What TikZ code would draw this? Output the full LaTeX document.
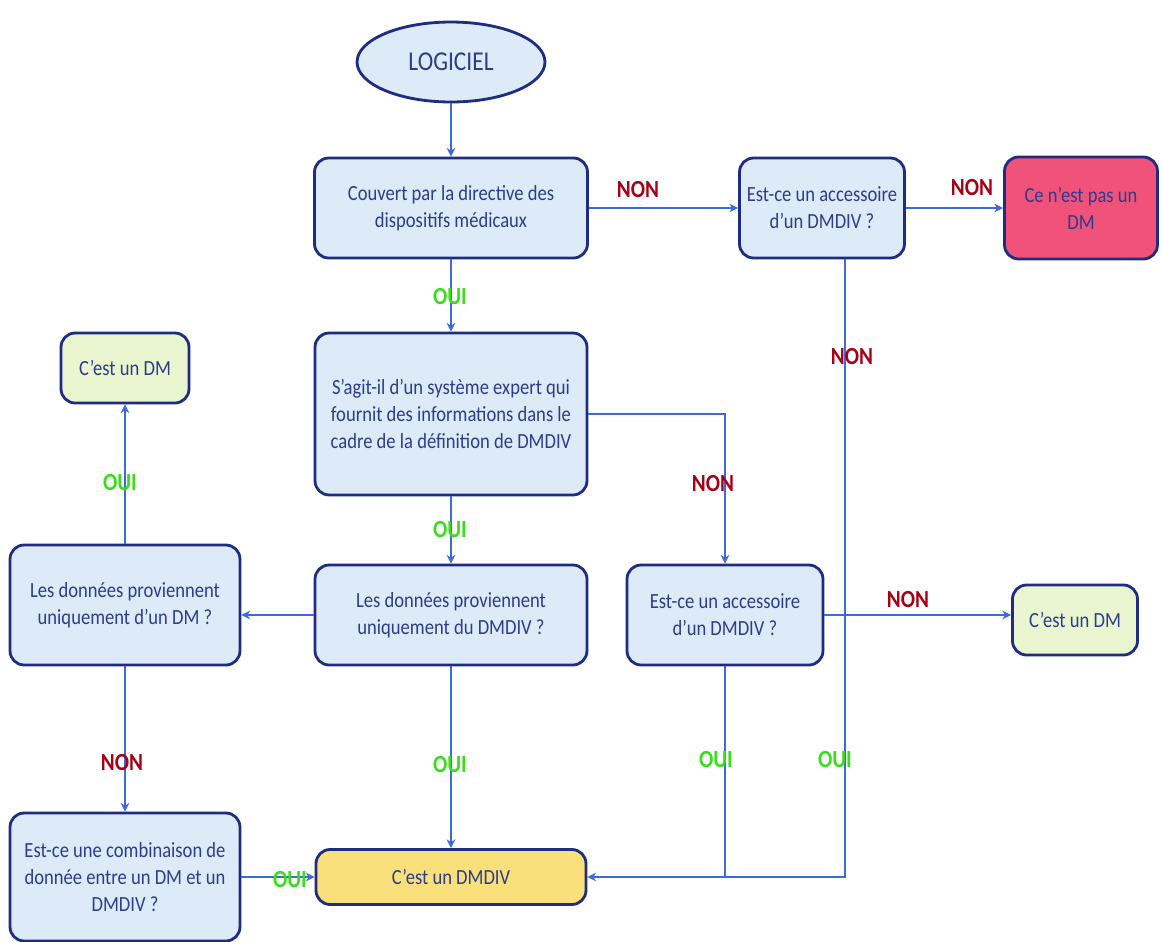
\documentclass[tikz,border=0pt]{standalone}
\usepackage{fontspec}
\setmainfont{Carlito}[FakeStretch=0.86]
\usetikzlibrary{arrows.meta,shapes.geometric}
\definecolor{boxfill}{RGB}{221,234,248}
\definecolor{boxdraw}{RGB}{30,45,130}
\definecolor{txt}{RGB}{46,60,140}
\definecolor{wire}{RGB}{62,105,222}
\definecolor{nonc}{RGB}{165,0,20}
\definecolor{ouic}{RGB}{55,222,25}
\definecolor{redfill}{RGB}{240,82,122}
\definecolor{greenfill}{RGB}{233,246,208}
\definecolor{yellowfill}{RGB}{249,224,122}
\tikzset{
  flowbox/.style={draw=boxdraw, line width=1.6pt, fill=boxfill, rounded corners=8pt,
    align=center, text=txt, font=\fontsize{12.3}{15.3}\selectfont, inner sep=2pt},
  startnode/.style={ellipse, draw=boxdraw, line width=1.6pt, fill=boxfill, text=txt,
    font=\fontsize{15.5}{18}\selectfont, inner sep=0pt},
  arr/.style={draw=wire, line width=1.1pt, -{Stealth[length=5pt,width=5pt]}},
  thickarr/.style={arr, line width=1.6pt},
  wireline/.style={draw=wire, line width=1.1pt},
  nonlab/.style={text=nonc, font=\fontsize{14}{16}\selectfont\bfseries, inner sep=0pt},
  ouilab/.style={text=ouic, font=\fontsize{14}{16}\selectfont\bfseries, inner sep=0pt},
}
\begin{document}
\begin{tikzpicture}[x=0.02cm,y=-0.02cm]
\useasboundingbox[fill=white] (0,0) rectangle (1161,941);
% nodes
\node[startnode, minimum width=3.76cm, minimum height=1.6cm] (logi) at (451,62) {LOGICIEL};
\node[flowbox, minimum width=5.46cm, minimum height=2.0cm] (b1) at (451,208) {Couvert par la directive des\\dispositifs médicaux};
\node[flowbox, minimum width=3.3cm, minimum height=2.0cm] (b2) at (822,208) {Est-ce un accessoire\\d’un DMDIV ?};
\node[flowbox, fill=redfill, minimum width=3.06cm, minimum height=2.04cm] (red) at (1081,208) {Ce n’est pas un\\DM};
\node[flowbox, minimum width=5.44cm, minimum height=3.24cm] (b3) at (451,414) {S'agit-il d'un système expert qui\\fournit des informations dans le\\cadre de la définition de DMDIV};
\node[flowbox, fill=greenfill, minimum width=2.56cm, minimum height=1.4cm] (dm1) at (125,368) {C’est un DM};
\node[flowbox, minimum width=4.6cm, minimum height=2.4cm] (b4) at (125,605) {Les données proviennent\\uniquement d’un DM ?};
\node[flowbox, minimum width=5.44cm, minimum height=2.0cm] (b5) at (451,615) {Les données proviennent\\uniquement du DMDIV ?};
\node[flowbox, minimum width=3.92cm, minimum height=2.0cm] (b6) at (725,615) {Est-ce un accessoire\\d’un DMDIV ?};
\node[flowbox, fill=greenfill, minimum width=2.5cm, minimum height=1.4cm] (dm2) at (1075,620) {C’est un DM};
\node[flowbox, minimum width=4.6cm, minimum height=2.56cm] (b7) at (125,877) {Est-ce une combinaison de\\donnée entre un DM et un\\DMDIV ?};
\node[flowbox, fill=yellowfill, minimum width=5.4cm, minimum height=1.1cm] (dmdiv) at (451,877) {C’est un DMDIV};
% junction coordinates
\coordinate (j2) at (845,877);
% connectors
\draw[arr] (logi) -- (b1);
\draw[thickarr] (b1) -- (b2);
\draw[arr] (b2) -- (red);
\draw[arr] (b1) -- (b3);
\draw[arr] (b2.south -| j2) -- (j2) -- (dmdiv.east);
\draw[arr] (b3.east) -| (b6.north);
\draw[arr] (b3) -- (b5);
\draw[thickarr] (b5.west) -- (b5.west -| b4.east);
\draw[arr] (b4) -- (dm1);
\draw[arr] (b4) -- (b7);
\draw[thickarr] (b7) -- (dmdiv);
\draw[arr] (b5) -- (dmdiv);
\draw[thickarr] (b6.east) -- (b6.east -| dm2.west);
\draw[wireline] (b6.south) -- (b6.south |- dmdiv.east);
% labels
\node[nonlab] (l1) at (638,190) {NON};
\node[nonlab] (l2) at (972,188) {NON};
\node[ouilab] (l3) at (450,297) {OUI};
\node[nonlab] (l4) at (852,357) {NON};
\node[nonlab] (l5) at (713,484) {NON};
\node[ouilab] (l6) at (450,530) {OUI};
\node[ouilab] (l7) at (120,483) {OUI};
\node[nonlab] (l8) at (908,600) {NON};
\node[nonlab] (l9) at (122,763) {NON};
\node[ouilab] (l10) at (450,765) {OUI};
\node[ouilab] (l11) at (716,760) {OUI};
\node[ouilab] (l12) at (835,760) {OUI};
\node[ouilab] (l13) at (290,880) {OUI};
\end{tikzpicture}
\end{document}
